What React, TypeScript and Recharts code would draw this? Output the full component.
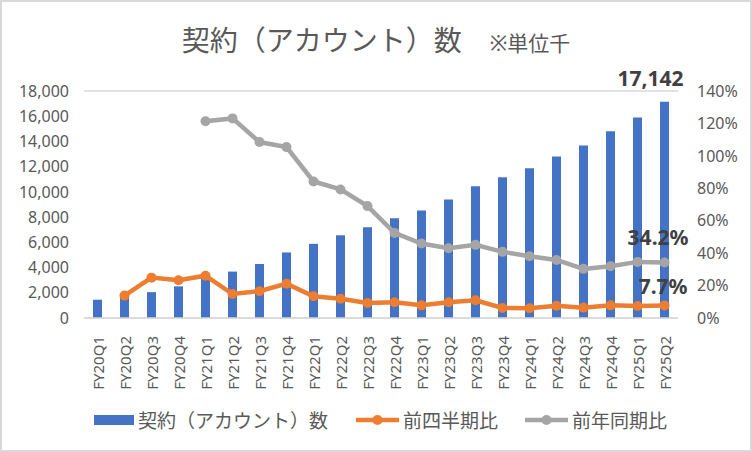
// 契約（アカウント）数と成長率の複合グラフ

import { ComposedChart, Bar, Line, XAxis, YAxis, CartesianGrid, Legend } from 'recharts';

const QUARTERS = [
  'FY20Q1', 'FY20Q2', 'FY20Q3', 'FY20Q4',
  'FY21Q1', 'FY21Q2', 'FY21Q3', 'FY21Q4',
  'FY22Q1', 'FY22Q2', 'FY22Q3', 'FY22Q4',
  'FY23Q1', 'FY23Q2', 'FY23Q3', 'FY23Q4',
  'FY24Q1', 'FY24Q2', 'FY24Q3', 'FY24Q4',
  'FY25Q1', 'FY25Q2',
];
const ACCOUNTS = [
  1450, 1650, 2050, 2510, 3170, 3680, 4280, 5200, 5880, 6560, 7190, 7910,
  8520, 9390, 10450, 11160, 11880, 12800, 13680, 14810, 15900, 17142,
];
const QOQ = [
  null, 13.8, 24.9, 23.3, 26.1, 14.8, 16.5, 21.2, 13.4, 11.9, 9.3, 9.7,
  7.8, 9.7, 10.9, 6.2, 6.0, 7.6, 6.4, 7.8, 7.4, 7.7,
];
const YOY = [
  null, null, null, null, 121.3, 123.1, 108.5, 105.4, 84.2, 79.3, 69.0, 52.5,
  45.9, 43.0, 45.1, 40.8, 38.1, 35.8, 30.3, 31.9, 34.6, 34.2,
];
const LEFT_TICKS = [0, 2000, 4000, 6000, 8000, 10000, 12000, 14000, 16000, 18000];
const RIGHT_TICKS = [0, 20, 40, 60, 80, 100, 120, 140];

const data = QUARTERS.map((q, i) => ({ q, accounts: ACCOUNTS[i], qoq: QOQ[i], yoy: YOY[i] }));

const FONT = "'Noto Sans', 'Noto Sans CJK JP', sans-serif";
const TEXT = '#595959';
const BLUE = '#4472C4';
const ORANGE = '#ED7D31';
const GREY = '#A5A5A5';
const LAST = QUARTERS.length - 1;

const XTick = ({ x, y, payload }: any) => (
  <text
    x={0}
    y={0}
    transform={`translate(${x},${y + 10}) rotate(-90)`}
    textAnchor="end"
    dominantBaseline="central"
    fill={TEXT}
    fontSize={15}
    fontFamily={FONT}
  >
    {payload.value}
  </text>
);

const lastLabel = (dx: number, dy: number, fmt: (v: number) => string) => (props: any) => {
  const { x, y, width, value, index } = props;
  if (index !== LAST) return null;
  const cx = width != null ? x + width / 2 : x;
  return (
    <text x={cx + dx} y={y + dy} textAnchor="end" fill="#404040" fontSize={21} fontWeight="bold" fontFamily={FONT}>
      {fmt(value)}
    </text>
  );
};

const LegendIcon = ({ type, color }: { type: 'rect' | 'line'; color: string }) =>
  type === 'rect' ? (
    <svg width={40} height={12}>
      <rect x={0} y={1} width={40} height={10} fill={color} />
    </svg>
  ) : (
    <svg width={43} height={12}>
      <line x1={0} y1={6} x2={43} y2={6} stroke={color} strokeWidth={4.5} />
      <circle cx={21.5} cy={6} r={5} fill={color} />
    </svg>
  );

const renderLegend = () => {
  const items = [
    { label: '契約（アカウント）数', type: 'rect' as const, color: BLUE, left: 94 },
    { label: '前四半期比', type: 'line' as const, color: ORANGE, left: 356 },
    { label: '前年同期比', type: 'line' as const, color: GREY, left: 525 },
  ];
  return (
    <div style={{ position: 'relative', height: 30, width: 752 }}>
      {items.map((it) => (
        <div
          key={it.label}
          style={{ position: 'absolute', left: it.left, top: 0, height: 30, display: 'flex', alignItems: 'center' }}
        >
          <LegendIcon type={it.type} color={it.color} />
          <span style={{ marginLeft: 4, fontSize: 19, color: TEXT, fontFamily: FONT, whiteSpace: 'nowrap' }}>{it.label}</span>
        </div>
      ))}
    </div>
  );
};

export default function App() {
  return (
    <div style={{ position: 'absolute', left: 0, top: 0, width: 752, height: 452, background: '#fff', fontFamily: FONT }}>
      <div
        style={{
          position: 'absolute',
          top: 25,
          left: 0,
          width: 752,
          textAlign: 'center',
          color: TEXT,
          lineHeight: '30px',
          whiteSpace: 'nowrap',
        }}
      >
        <span style={{ fontSize: 28 }}>契約（アカウント）数</span>
        <span style={{ fontSize: 21, marginLeft: 28 }}>※単位千</span>
      </div>
      <ComposedChart width={752} height={452} data={data} margin={{ top: 91, right: 0, left: 0, bottom: 0 }}>
        <CartesianGrid vertical={false} stroke="#d9d9d9" strokeWidth={1.3} />
        <XAxis
          dataKey="q"
          height={134}
          interval={0}
          tick={<XTick />}
          tickLine={false}
          axisLine={{ stroke: '#d9d9d9', strokeWidth: 1.3 }}
        />
        <YAxis
          yAxisId="left"
          width={84}
          domain={[0, 18000]}
          ticks={LEFT_TICKS}
          tickFormatter={(v: number) => v.toLocaleString('en-US')}
          tick={{ fill: TEXT, fontSize: 16, fontFamily: FONT }}
          tickSize={0}
          tickMargin={15}
          axisLine={false}
          tickLine={false}
        />
        <YAxis
          yAxisId="right"
          orientation="right"
          width={74}
          domain={[0, 140]}
          ticks={RIGHT_TICKS}
          tickFormatter={(v: number) => `${v}%`}
          tick={{ fill: TEXT, fontSize: 16, fontFamily: FONT, textAnchor: 'start' }}
          tickSize={0}
          tickMargin={19}
          axisLine={false}
          tickLine={false}
        />
        <Bar
          yAxisId="left"
          dataKey="accounts"
          name="契約（アカウント）数"
          fill={BLUE}
          barSize={9}
          isAnimationActive={false}
          label={lastLabel(19, -16, (v) => v.toLocaleString('en-US'))}
        />
        <Line
          yAxisId="right"
          dataKey="qoq"
          name="前四半期比"
          stroke={ORANGE}
          strokeWidth={4.5}
          dot={{ r: 5, fill: ORANGE, stroke: ORANGE, strokeWidth: 0 }}
          activeDot={false}
          isAnimationActive={false}
          label={lastLabel(23, -12, (v) => `${v}%`)}
        />
        <Line
          yAxisId="right"
          dataKey="yoy"
          name="前年同期比"
          stroke={GREY}
          strokeWidth={4.5}
          dot={{ r: 5, fill: GREY, stroke: GREY, strokeWidth: 0 }}
          activeDot={false}
          isAnimationActive={false}
          label={lastLabel(24, -18, (v) => `${v}%`)}
        />
        <Legend
          layout="horizontal"
          verticalAlign="middle"
          align="center"
          content={renderLegend}
          wrapperStyle={{ top: 405, left: 0, width: 752 }}
        />
      </ComposedChart>
      <div
        style={{
          position: 'absolute',
          left: 0,
          top: 0,
          width: 752,
          height: 452,
          boxSizing: 'border-box',
          border: '2px solid #d9d9d9',
          pointerEvents: 'none',
        }}
      />
    </div>
  );
}
